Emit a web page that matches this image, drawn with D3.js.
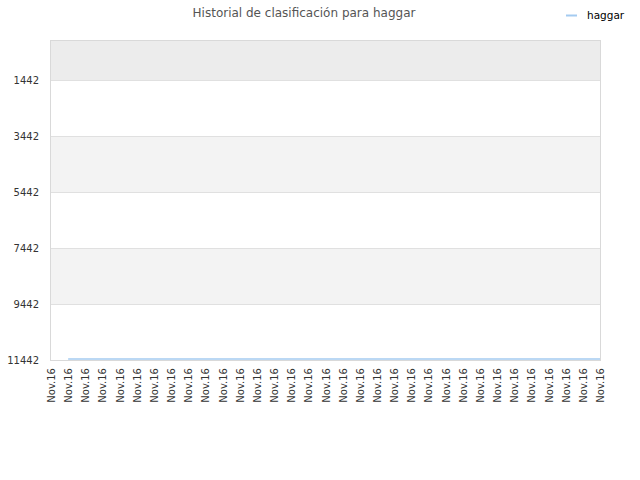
<!DOCTYPE html>
<html>
<head>
<meta charset="utf-8">
<script src="https://cdn.jsdelivr.net/npm/d3@7"></script>
<style>
  body { margin: 0; background: #fff; }
  text { font-family: "DejaVu Sans", sans-serif; }
</style>
</head>
<body>
<svg id="chart" width="640" height="480"></svg>
<script>

    //////////////////////
    // Data
    //////////////////////

    var title = "Historial de clasificación para haggar";
    var seriesName = "haggar";

    // one label per snapshot, all from the same month
    var dates = ["Nov.16","Nov.16","Nov.16","Nov.16","Nov.16","Nov.16","Nov.16","Nov.16",
                 "Nov.16","Nov.16","Nov.16","Nov.16","Nov.16","Nov.16","Nov.16","Nov.16",
                 "Nov.16","Nov.16","Nov.16","Nov.16","Nov.16","Nov.16","Nov.16","Nov.16",
                 "Nov.16","Nov.16","Nov.16","Nov.16","Nov.16","Nov.16","Nov.16","Nov.16",
                 "Nov.16"];

    // rank per snapshot (first one has no value)
    var ranks = [null,11410,11410,11410,11410,11410,11410,11410,
                 11410,11410,11410,11410,11410,11410,11410,11410,
                 11410,11410,11410,11410,11410,11410,11410,11410,
                 11410,11410,11410,11410,11410,11410,11410,11410,
                 11410];

    var yTicks = [1442, 3442, 5442, 7442, 9442, 11442];
    var yMin = 1, yMax = 11442;

    //////////////////////
    // Layout
    //////////////////////

    var svg = d3.select("#chart");
    var plotLeft = 51, plotRight = 600, plotTop = 40, plotBottom = 360;

    var x = d3.scalePoint()
        .domain(d3.range(dates.length))
        .range([plotLeft, plotRight]);

    var y = d3.scaleLinear()
        .domain([yMin, yMax])
        .range([plotTop, plotBottom]);

    // alternating bands between the ticks
    var bandEdges = [yMin].concat(yTicks);
    var bandFill = ["#ececec", "#ffffff", "#f3f3f3", "#ffffff", "#f3f3f3", "#ffffff"];

    svg.append("g").selectAll("rect")
        .data(d3.pairs(bandEdges))
        .enter()
        .append("rect")
            .attr("x", plotLeft)
            .attr("y", function(d) { return y(d[0]); })
            .attr("width", plotRight - plotLeft)
            .attr("height", function(d) { return y(d[1]) - y(d[0]); })
            .attr("fill", function(d, i) { return bandFill[i]; });

    // grid lines
    svg.append("g").selectAll("line")
        .data(yTicks)
        .enter()
        .append("line")
            .attr("x1", plotLeft)
            .attr("x2", plotRight)
            .attr("y1", function(d) { return Math.round(y(d)) + 0.5; })
            .attr("y2", function(d) { return Math.round(y(d)) + 0.5; })
            .attr("stroke", "#e0e0e0");

    // frame
    svg.append("rect")
        .attr("x", plotLeft - 0.5)
        .attr("y", plotTop + 0.5)
        .attr("width", plotRight - plotLeft + 1)
        .attr("height", plotBottom - plotTop)
        .attr("fill", "none")
        .attr("stroke", "#d9d9d9");

    //////////////////////
    // Axes
    //////////////////////

    var yAxis = svg.append("g")
        .attr("transform", "translate(" + (plotLeft - 12) + ",0)")
        .call(d3.axisLeft(y).tickValues(yTicks).tickSize(0).tickPadding(0).tickFormat(d3.format("d")));
    yAxis.select(".domain").remove();
    yAxis.selectAll("text")
        .attr("fill", "#333")
        .style("font-size", "10px");

    var xAxis = svg.append("g")
        .attr("transform", "translate(0," + (plotBottom + 5) + ")")
        .call(d3.axisBottom(x).tickSize(0).tickPadding(0).tickFormat(function(i) { return dates[i]; }));
    xAxis.select(".domain").remove();
    xAxis.selectAll("text")
        .attr("fill", "#333")
        .style("font-size", "10px")
        .attr("text-anchor", "end")
        .attr("dy", "0.35em")
        .attr("transform", "rotate(-90)")
        .attr("x", -3)
        .attr("y", 0);

    //////////////////////
    // Series
    //////////////////////

    var line = d3.line()
        .defined(function(d) { return d !== null; })
        .x(function(d, i) { return x(i); })
        .y(function(d) { return y(d); });

    svg.append("path")
        .datum(ranks)
        .attr("d", line)
        .attr("fill", "none")
        .attr("stroke", "#a4cbf0")
        .attr("stroke-width", 1.5);

    //////////////////////
    // Title & legend
    //////////////////////

    svg.append("text")
        .attr("x", 304)
        .attr("y", 17)
        .attr("text-anchor", "middle")
        .attr("fill", "#555")
        .style("font-size", "12px")
        .text(title);

    svg.append("line")
        .attr("x1", 566).attr("x2", 577)
        .attr("y1", 15.5).attr("y2", 15.5)
        .attr("stroke", "#a4cbf0")
        .attr("stroke-width", 2);

    svg.append("text")
        .attr("x", 587)
        .attr("y", 19)
        .attr("fill", "#000")
        .style("font-size", "10.5px")
        .text(seriesName);

</script>
</body>
</html>
